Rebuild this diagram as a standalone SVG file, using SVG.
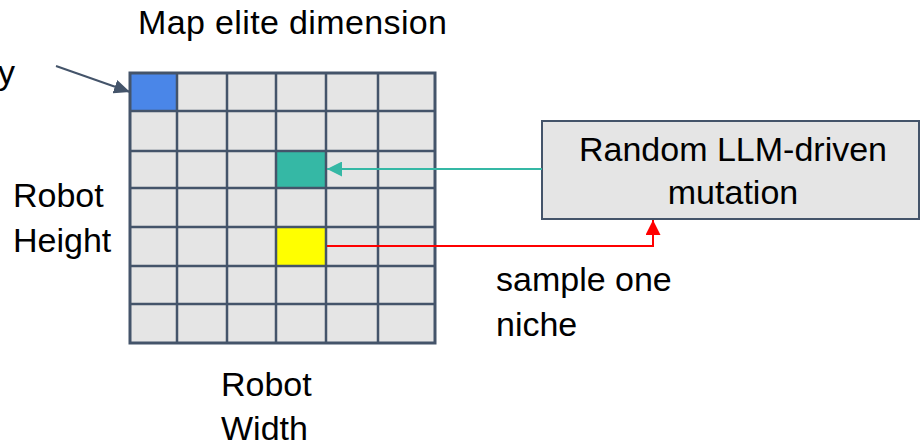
<svg xmlns="http://www.w3.org/2000/svg" width="921" height="445" viewBox="0 0 921 445">
  <style>
    .lbl { font-family: "Liberation Sans", Arial, sans-serif; font-size: 34px; fill: #000; }
    .grid { stroke: #44546a; stroke-width: 2.5; fill: none; }
    .conn { fill: none; }
  </style>
  <defs>
    <marker id="arrDark" markerUnits="userSpaceOnUse" markerWidth="16" markerHeight="14" refX="16" refY="7" orient="auto">
      <path d="M0,0 L16,7 L0,14 Z" fill="#44546a"/>
    </marker>
    <marker id="arrTeal" markerUnits="userSpaceOnUse" markerWidth="15" markerHeight="15" refX="15" refY="7.5" orient="auto">
      <path d="M0,0 L15,7.5 L0,15 Z" fill="#35b8a5"/>
    </marker>
    <marker id="arrRed" markerUnits="userSpaceOnUse" markerWidth="15" markerHeight="15" refX="15" refY="7.5" orient="auto">
      <path d="M0,0 L15,7.5 L0,15 Z" fill="#ff0000"/>
    </marker>
  </defs>
  <rect width="921" height="445" fill="#ffffff"/>

  <g id="title-label">
    <text class="lbl" x="138" y="34" textLength="309">Map elite dimension</text>
  </g>
  <g id="cut-label">
    <text class="lbl" x="15" y="84" text-anchor="end">y</text>
  </g>

  <g id="map-grid">
    <rect x="130" y="73" width="305" height="270" fill="#e5e5e5"/>
    <rect id="cell-blue" x="130" y="73" width="47" height="38" fill="#4a86e8"/>
    <rect id="cell-teal" x="276" y="151" width="50" height="37" fill="#35b8a5"/>
    <rect id="cell-yellow" x="276" y="227" width="50" height="39" fill="#ffff00"/>
    <path class="grid" d="M177,73 V343 M227,73 V343 M276,73 V343 M326,73 V343 M378,73 V343 M130,111 H435 M130,151 H435 M130,188 H435 M130,227 H435 M130,266 H435 M130,304 H435"/>
    <rect x="130" y="73" width="305" height="270" fill="none" stroke="#44546a" stroke-width="3"/>
  </g>

  <g id="height-label">
    <text class="lbl" x="13" y="207">Robot</text>
    <text class="lbl" x="13" y="252">Height</text>
  </g>
  <g id="width-label">
    <text class="lbl" x="221" y="396">Robot</text>
    <text class="lbl" x="221" y="440">Width</text>
  </g>

  <g id="mutation-box">
    <rect x="542" y="121" width="377" height="98" fill="#e5e5e5" stroke="#44546a" stroke-width="2"/>
    <text class="lbl" x="733" y="161" text-anchor="middle">Random LLM-driven</text>
    <text class="lbl" x="733" y="204" text-anchor="middle">mutation</text>
  </g>

  <g id="sample-label">
    <text class="lbl" x="496" y="291">sample one</text>
    <text class="lbl" x="496" y="336">niche</text>
  </g>

  <g id="connectors">
    <path class="conn" d="M56,66 L130,92" stroke="#44546a" stroke-width="2" marker-end="url(#arrDark)"/>
    <path class="conn" d="M542,169 H327" stroke="#35b8a5" stroke-width="2" marker-end="url(#arrTeal)"/>
    <path class="conn" d="M327,246 H653 V220" stroke="#ff0000" stroke-width="2" marker-end="url(#arrRed)"/>
  </g>
</svg>
